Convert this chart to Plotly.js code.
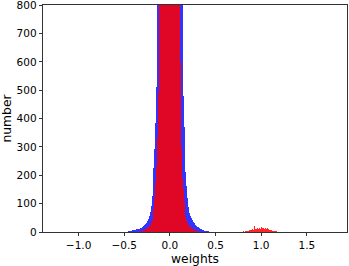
<!DOCTYPE html>
<html>
<head>
<meta charset="utf-8">
<script src="https://cdn.plot.ly/plotly-3.0.1.min.js"></script>
<style>
  html, body { margin: 0; padding: 0; background: #fff; }
  #chart { width: 349px; height: 266px; }
</style>
</head>
<body>
<div id="chart"></div>
<script>
// ---------------------------------------------------------------
// DATA (bin centres, bin width 0.01)

const CORE_BINS = [
  -0.495, -0.485, -0.475, -0.465, -0.455, -0.445, -0.435, -0.425, -0.415, -0.405,
  -0.395, -0.385, -0.375, -0.365, -0.355, -0.345, -0.335, -0.325, -0.315, -0.305,
  -0.295, -0.285, -0.275, -0.265, -0.255, -0.245, -0.235, -0.225, -0.215, -0.205,
  -0.195, -0.185, -0.175, -0.165, -0.155, -0.145, -0.135, -0.125, -0.115, -0.105,
  -0.095, -0.085, -0.075, -0.065, -0.055, -0.045, -0.035, -0.025, -0.015, -0.005,
  0.005, 0.015, 0.025, 0.035, 0.045, 0.055, 0.065, 0.075, 0.085, 0.095,
  0.105, 0.115, 0.125, 0.135, 0.145, 0.155, 0.165, 0.175, 0.185, 0.195,
  0.205, 0.215, 0.225, 0.235, 0.245, 0.255, 0.265, 0.275, 0.285, 0.295,
  0.305, 0.315, 0.325, 0.335, 0.345, 0.355, 0.365, 0.375, 0.385, 0.395,
  0.405, 0.415, 0.425, 0.435, 0.445, 0.455, 0.465, 0.475, 0.485, 0.495
];

// blue histogram (wider)
const BLUE_COUNTS = [
  0, 1, 1, 1, 2, 2, 3, 4, 5, 6,
  7, 7, 8, 9, 10, 11, 12, 13, 15, 17,
  19, 22, 25, 28, 33, 39, 46, 56, 71, 92,
  126, 174, 224, 292, 385, 510, 830, 1110, 1500, 1900,
  2300, 2700, 3100, 3400, 3700, 3900, 4100, 4200, 4300, 4350,
  4340, 4300, 4200, 4100, 3900, 3700, 3400, 3100, 2700, 2300,
  1900, 1500, 1100, 820, 480, 370, 280, 212, 162, 120,
  88, 68, 56, 48, 42, 36, 31, 27, 23, 20,
  18, 16, 14, 12, 10, 8, 6, 5, 4, 3,
  3, 2, 2, 1, 1, 1, 0, 1, 0, 0
];

// red histogram (narrower), drawn on top
const RED_COUNTS = [
  0, 0, 0, 0, 0, 0, 0, 0, 0, 0,
  0, 0, 1, 0, 1, 1, 1, 2, 2, 3,
  3, 4, 7, 9, 11, 14, 17, 21, 26, 34,
  44, 60, 82, 125, 178, 230, 330, 490, 860, 1300,
  1800, 2300, 2800, 3300, 3700, 4100, 4400, 4600, 4750, 4800,
  4800, 4750, 4600, 4400, 4100, 3700, 3300, 2800, 2300, 1800,
  1200, 600, 300, 190, 150, 110, 80, 58, 44, 33,
  25, 20, 16, 14, 11, 9, 7, 5, 4, 3,
  2, 2, 1, 1, 1, 0, 0, 0, 0, 0,
  0, 0, 0, 0, 0, 0, 0, 0, 0, 0
];

// small red cluster near 1.0
const BUMP_BINS = [
  0.785, 0.795, 0.805, 0.815, 0.825, 0.835, 0.845, 0.855, 0.865, 0.875,
  0.885, 0.895, 0.905, 0.915, 0.925, 0.935, 0.945, 0.955, 0.965, 0.975,
  0.985, 0.995, 1.005, 1.015, 1.025, 1.035, 1.045, 1.055, 1.065, 1.075,
  1.085, 1.095, 1.105, 1.115, 1.125, 1.135, 1.145, 1.155, 1.165, 1.175
];
const BUMP_COUNTS = [
  1, 0, 2, 1, 3, 2, 4, 3, 5, 6,
  7, 6, 9, 8, 20, 9, 11, 14, 10, 12,
  14, 11, 16, 13, 15, 12, 14, 11, 13, 9,
  10, 8, 7, 6, 5, 4, 3, 2, 2, 1
];

const BIN_W = 0.01;

// ---------------------------------------------------------------
// TRACES

const blue = {
  type: 'bar',
  x: CORE_BINS,
  y: BLUE_COUNTS,
  width: BIN_W,
  marker: { color: 'rgba(0,0,255,0.8)', line: { width: 0 } },
  hoverinfo: 'skip'
};

const redCore = {
  type: 'bar',
  x: CORE_BINS,
  y: RED_COUNTS,
  width: BIN_W,
  marker: { color: 'rgba(255,0,0,0.85)', line: { width: 0 } },
  hoverinfo: 'skip'
};

const redBump = {
  type: 'bar',
  x: BUMP_BINS,
  y: BUMP_COUNTS,
  width: BIN_W,
  marker: { color: 'rgba(255,0,0,0.85)', line: { width: 0 } },
  hoverinfo: 'skip'
};

// ---------------------------------------------------------------
// LAYOUT

const FONT = 'DejaVu Sans, sans-serif';

const layout = {
  width: 349,
  height: 266,
  margin: { t: 5, r: 2, b: 34, l: 43 },
  paper_bgcolor: '#fff',
  plot_bgcolor: '#fff',
  showlegend: false,
  barmode: 'overlay',
  bargap: 0,
  font: { family: FONT, size: 10.5, color: '#000' },
  xaxis: {
    range: [-1.39, 1.94],
    tickvals: [-1.0, -0.5, 0.0, 0.5, 1.0, 1.5],
    ticktext: ['\u22121.0', '\u22120.5', '0.0', '0.5', '1.0', '1.5'],
    ticks: 'outside', ticklen: 3.5, tickwidth: 0.8, tickcolor: '#000',
    showline: true, linecolor: '#000', linewidth: 0.8, mirror: true,
    showgrid: false, zeroline: false,
    title: { text: 'weights', font: { family: FONT, size: 12.3 }, standoff: 4 }
  },
  yaxis: {
    range: [0, 800.5],
    tickvals: [0, 100, 200, 300, 400, 500, 600, 700, 800],
    ticklabeloverflow: 'allow',
    ticks: 'outside', ticklen: 3.5, tickwidth: 0.8, tickcolor: '#000',
    showline: true, linecolor: '#000', linewidth: 0.8, mirror: true,
    showgrid: false, zeroline: false,
    title: { text: 'number', font: { family: FONT, size: 12.3 }, standoff: 4 }
  }
};

const config = { displayModeBar: false, staticPlot: true };

Plotly.newPlot('chart', [blue, redCore, redBump], layout, config);
</script>
</body>
</html>
